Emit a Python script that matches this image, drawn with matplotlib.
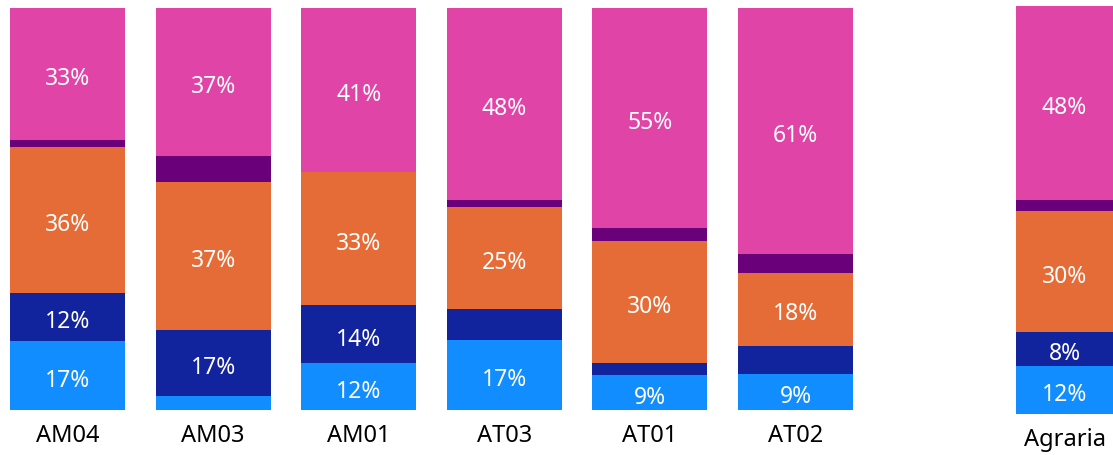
import matplotlib
matplotlib.use("Agg")
import matplotlib.pyplot as plt
import numpy as np

plt.rcParams['font.family'] = ['Noto Sans', 'DejaVu Sans']

schools = ['AM04', 'AM03', 'AM01', 'AT03', 'AT01', 'AT02']
light_blue = [17.2, 3.4, 11.6, 17.4, 8.7, 9.0]
dark_blue = [11.9, 16.6, 14.4, 7.7, 3.0, 7.0]
orange = [36.3, 36.6, 33.1, 25.4, 30.3, 18.2]
purple = [1.7, 6.6, 0.0, 1.7, 3.2, 4.5]
pink = [32.9, 36.8, 40.9, 47.8, 54.8, 61.3]

total_name = 'Agraria'
total_vals = [11.8, 8.4, 29.6, 2.7, 47.5]

colors = ['#118DFF', '#12239E', '#E66C37', '#6B007B', '#E044A7']
W, H = 1113, 455

fig = plt.figure(figsize=(W / 100, H / 100), dpi=100)


def stack(ax, x, series, width):
    bottom = np.zeros(len(x))
    for vals, c in zip(series, colors):
        vals = np.array(vals, dtype=float)
        ax.bar(x, vals, width, bottom=bottom, color=c, linewidth=0)
        for xi, v, b in zip(x, vals, bottom):
            if v >= 8:
                ax.text(xi, b + v / 2 - 1.3, f"{round(v)}%", ha='center', va='center',
                        color='white', fontsize=16.5, fontweight='light')
        bottom += vals


# main group
ax = fig.add_axes([10 / W, (H - 410) / H, 843 / W, 402 / H])
x = np.arange(len(schools))
stack(ax, x, [light_blue, dark_blue, orange, purple, pink], 0.79)
ax.set_xlim(-0.395, len(schools) - 1 + 0.395)
ax.set_ylim(0, 100)
ax.set_xticks(x)
ax.set_xticklabels(schools, fontsize=17)
ax.tick_params(axis='x', length=0, pad=10)
ax.set_yticks([])
for s in ax.spines.values():
    s.set_visible(False)

# total bar
ax2 = fig.add_axes([1016 / W, (H - 414) / H, 97 / W, 408 / H])
stack(ax2, [0], [[v] for v in total_vals], 1.0)
ax2.set_xlim(-0.5, 0.5)
ax2.set_ylim(0, 100)
ax2.set_xticks([0])
ax2.set_xticklabels([total_name], fontsize=17)
ax2.tick_params(axis='x', length=0, pad=10)
ax2.set_yticks([])
for s in ax2.spines.values():
    s.set_visible(False)

fig.savefig('out.png', dpi=100)
